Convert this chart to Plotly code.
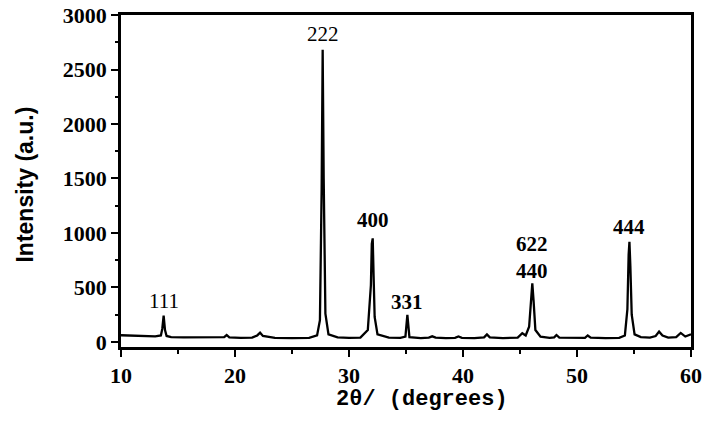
import plotly.graph_objects as go

two_theta = [10.0, 11.0, 12.0, 13.0, 13.5, 13.62, 13.74, 13.86, 14.0, 14.4, 15.5, 17.0, 18.5,
             19.05, 19.27, 19.5, 20.5, 21.5, 21.95, 22.2, 22.45, 23.5, 25.0, 26.5, 27.2,
             27.45, 27.6, 27.69, 27.78, 27.93, 28.2, 29.0, 30.0, 31.0, 31.65, 31.92, 32.0,
             32.08, 32.16, 32.25, 32.5, 33.5, 34.5, 34.95, 35.12, 35.3, 36.3, 37.0, 37.3,
             37.6, 38.5, 39.3, 39.6, 39.9, 41.0, 41.85, 42.1, 42.35, 43.5, 44.8, 45.2, 45.5,
             45.8, 45.97, 46.08, 46.19, 46.35, 46.8, 47.6, 48.0, 48.2, 48.45, 49.8, 50.7,
             50.94, 51.2, 52.5, 53.7, 54.2, 54.42, 54.53, 54.6, 54.68, 54.8, 55.05, 55.6,
             56.4, 56.9, 57.2, 57.5, 58.0, 58.7, 59.1, 59.5, 60.0]
intensity = [62, 58, 55, 52, 60, 120, 241, 110, 55, 45, 42, 40, 38,
             44, 64, 42, 38, 40, 60, 85, 55, 38, 36, 38, 60,
             200, 1400, 2680, 1500, 260, 70, 42, 38, 40, 110, 520, 900,
             951, 600, 230, 70, 40, 38, 50, 248, 45, 36, 40, 52,
             40, 36, 38, 50, 38, 36, 42, 70, 42, 36, 40, 80, 60,
             140, 420, 538, 380, 110, 48, 38, 42, 64, 40, 36, 38,
             60, 40, 36, 38, 60, 300, 800, 920, 700, 250, 70, 45,
             40, 55, 95, 60, 40, 45, 83, 50, 70]

peak_labels = ["111", "222", "400", "331", "622<br>440", "444"]
label_x = [13.74, 27.69, 32.08, 35.12, 46.08, 54.6]
label_y = [376, 2824, 1119, 367, 775, 1055]
label_bold = [False, False, True, True, True, True]

x_ticks = [10, 20, 30, 40, 50, 60]
y_ticks = [0, 500, 1000, 1500, 2000, 2500, 3000]

fig = go.Figure()
fig.add_trace(go.Scatter(x=two_theta, y=intensity, mode="lines",
                         line=dict(color="black", width=2.3), showlegend=False,
                         hoverinfo="skip"))

for txt, lx, ly, b in zip(peak_labels, label_x, label_y, label_bold):
    fig.add_annotation(x=lx, y=ly, text=f"<b>{txt}</b>" if b else txt, showarrow=False,
                       font=dict(family="Liberation Serif", size=21, color="black"),
                       xanchor="center", yanchor="middle")

fig.add_annotation(x=0.528, y=-0.115, xref="paper", yref="paper", yanchor="top",
                   text="<b>2θ/ (degrees)</b>", showarrow=False,
                   font=dict(family="Liberation Mono", size=22, color="black"))
fig.add_annotation(x=-0.168, y=0.49, xref="paper", yref="paper", textangle=-90,
                   xanchor="center", yanchor="middle",
                   text="<b>Intensity (a.u.)</b>", showarrow=False,
                   font=dict(family="Liberation Sans", size=23, color="black"))

axis_font = dict(family="Liberation Serif", size=22, color="black", weight="bold")
fig.update_xaxes(range=[10, 60], tickvals=x_ticks, ticks="outside", ticklen=7, tickwidth=2,
                 tickcolor="black", showline=True, linecolor="black", linewidth=2.5,
                 mirror=True, showgrid=False, zeroline=False, tickfont=axis_font,
                 automargin=False, ticklabeloverflow="allow",
                 minor=dict(dtick=5, ticks="outside", ticklen=4, tickwidth=2,
                            tickcolor="black"))
fig.update_yaxes(range=[-46, 3000], tickvals=y_ticks, ticks="outside", ticklen=7,
                 tickwidth=2, tickcolor="black", showline=True, linecolor="black",
                 linewidth=2.5, mirror=True, showgrid=False, zeroline=False,
                 tickfont=axis_font, automargin=False, ticklabeloverflow="allow",
                 minor=dict(dtick=250, ticks="outside", ticklen=3, tickwidth=2,
                            tickcolor="black"))

fig.update_layout(width=714, height=448, margin=dict(l=121, r=23, t=15, b=101),
                  plot_bgcolor="white", paper_bgcolor="white")
fig.write_html("out.html", config={"displayModeBar": False},
               post_script="document.body.style.margin='0';"
                           "document.body.style.overflow='hidden';")
